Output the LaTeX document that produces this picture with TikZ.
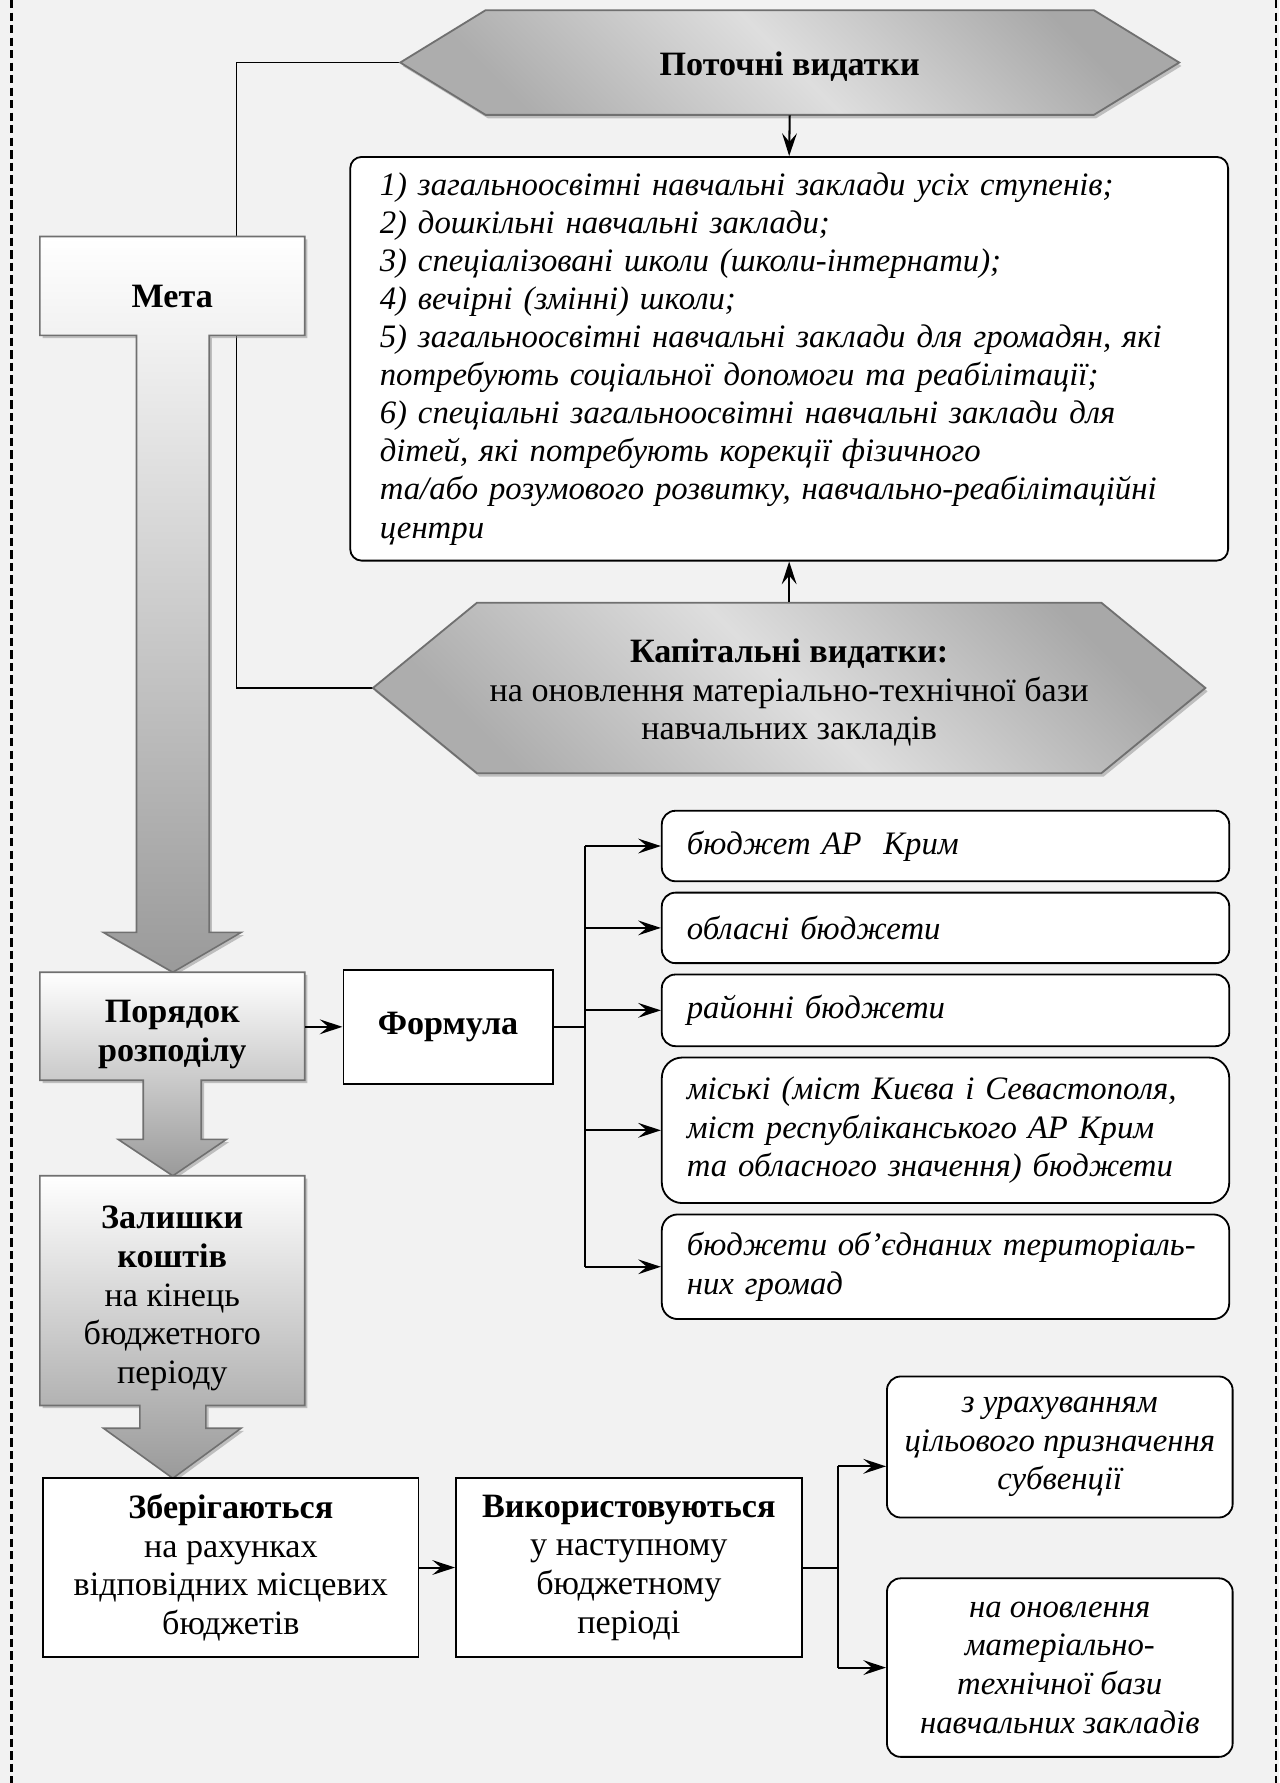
\documentclass[tikz,border=0pt]{standalone}
\usepackage{fontspec}
\setmainfont{Liberation Serif}
\usepackage{tikz}
\usetikzlibrary{positioning,arrows.meta,calc,shadows}
\definecolor{pagegray}{HTML}{F2F2F2}
\definecolor{shapeborder}{HTML}{707070}
\definecolor{hexdark}{HTML}{A8A8A8}
\definecolor{hexlight}{HTML}{DEDEDE}
\definecolor{hexlow}{HTML}{ADADAD}
\definecolor{calloutbot}{HTML}{9A9A9A}

\tikzset{
  bodytext/.style={font=\fontsize{15}{17}\selectfont},
  headtext/.style={font=\fontsize{15}{17}\selectfont\bfseries},
  listtext/.style={font=\fontsize{14.4}{16.75}\selectfont\itshape},
  itemtext/.style={font=\fontsize{14.4}{17}\selectfont\itshape},
  hexshape/.style={draw=shapeborder,line width=0.8pt,
    top color=hexdark,bottom color=hexlow,middle color=hexlight,shading angle=-45,
    drop shadow={shadow xshift=1pt,shadow yshift=-1.5pt,opacity=0.5,fill=black!45}},
  calloutshape/.style={draw=shapeborder,line width=0.7pt,
    top color=white,bottom color=calloutbot,
    drop shadow={shadow xshift=1.2pt,shadow yshift=-1.2pt,opacity=0.5,fill=black!45}},
  whitebox/.style={draw=black,line width=0.8pt,fill=white,inner sep=0pt,align=center},
  roundbox/.style={whitebox,rounded corners=6pt},
  budgetbox/.style={roundbox,itemtext,align=left,text width=227.5pt,inner xsep=11pt},
  conn/.style={line width=0.9pt},
  thinline/.style={line width=0.6pt},
  arr/.style={conn,-{Stealth[length=10pt,width=6.5pt,inset=3.8pt]}},
  dashline/.style={line width=1.1pt,dash pattern=on 3.7pt off 1.8pt}
}

\begin{document}
\begin{tikzpicture}[x=0.5pt,y=-0.5pt]

\useasboundingbox (0,0) rectangle (1125,1568);
\fill[pagegray] (0,0) rectangle (1125,1568);
\draw[dashline] (10,0) -- (10,1568);
\draw[dashline] (1122,0) -- (1122,1568);

% tips of the two expense arrows
\coordinate (potW) at (352,55);
\coordinate (kapW) at (328,605);
\coordinate (mline) at (208,0);
\draw[thinline] (potW) -| (mline |- kapW) -- (kapW);

% expense shapes
\path[hexshape] (352,55) -- (427,9) -- (962,9) -- (1037,55) -- (962,101) -- (427,101) -- cycle;
\path[hexshape] (328,605) -- (419.5,530) -- (968.5,530) -- (1060,605) -- (968.5,680) -- (419.5,680) -- cycle;

\node[headtext,minimum width=267.5pt,minimum height=42pt] (pot) at (694.5,59) {Поточні видатки};
\node[bodytext,align=center,minimum width=274.5pt,minimum height=79pt] (kap) at (694,609)
  {\textbf{Капітальні видатки:}\\на оновлення матеріально-технічної бази\\навчальних закладів};

\node[whitebox,rounded corners=5pt,listtext,align=left,text width=360pt,
      minimum height=177.5pt,inner xsep=13pt] (list) at (694,315.5)
{1) загальноосвітні навчальні заклади усіх ступенів;\\
2) дошкільні навчальні заклади;\\
3) спеціалізовані школи (школи-інтернати);\\
4) вечірні (змінні) школи;\\
5) загальноосвітні навчальні заклади для громадян, які\\
потребують соціальної допомоги та реабілітації;\\
6) спеціальні загальноосвітні навчальні заклади для\\
дітей, які потребують корекції фізичного\\
та/або розумового розвитку, навчально-реабілітаційні\\
центри};

\draw[arr] (pot.south) -- (list.north);
\draw[arr] (kap.north) -- (list.south);

% left column: box + down arrow
\path[calloutshape] (35,208) -- (268,208) -- (268,295) -- (184,295) -- (184,820) -- (212,820)
  -- (152,855) -- (91,820) -- (120,820) -- (120,295) -- (35,295) -- cycle;
\path[calloutshape] (35,855) -- (268,855) -- (268,950) -- (177,950) -- (177,1002) -- (199,1002)
  -- (152,1034) -- (104,1002) -- (126,1002) -- (126,950) -- (35,950) -- cycle;
\path[calloutshape] (35,1034) -- (268,1034) -- (268,1236) -- (181,1236) -- (181,1256) -- (212,1256)
  -- (152,1300) -- (91,1256) -- (123,1256) -- (123,1236) -- (35,1236) -- cycle;

\node[headtext,minimum width=116.5pt,minimum height=43.5pt] (meta) at (151.5,261) {Мета};
\node[headtext,align=center,minimum width=116.5pt,minimum height=47.5pt] (order) at (151.5,910)
  {Порядок\\розподілу};
\node[bodytext,align=center,minimum width=116.5pt,minimum height=101pt] (rest) at (151.5,1142)
  {\textbf{Залишки}\\\textbf{коштів}\\на кінець\\бюджетного\\періоду};

% formula and budgets
\node[whitebox,headtext,minimum width=92pt,minimum height=50pt] (formula) at (394,903) {Формула};
\draw[arr] (order.east |- formula.west) -- (formula.west);

\node[budgetbox,minimum height=31pt] (b1) at (831.5,744) {бюджет АР\ \ Крим};
\node[budgetbox,minimum height=31pt] (b2) at (831.5,816) {обласні бюджети};
\node[budgetbox,minimum height=31.5pt] (b3) at (831.5,888.5) {районні бюджети};
\node[budgetbox,rounded corners=9pt,minimum height=64pt] (b4) at (831.5,994)
  {міські (міст Києва і Севастополя,\\міст республіканського АР Крим\\та обласного значення) бюджети};
\node[budgetbox,rounded corners=7pt,minimum height=46pt] (b5) at (831.5,1114)
  {\mbox{бюджети об’єднаних територіаль-}\\них громад};

\coordinate (fbus) at ($(formula.east)+(28,0)$);
\draw[conn] (formula.east) -- (fbus);
\draw[conn] (fbus |- b1.west) -- (fbus |- b5.west);
\foreach \b in {b1,b2,b3,b4,b5}
  \draw[arr] (fbus |- \b.west) -- (\b.west);

% bottom row
\node[whitebox,bodytext,minimum width=165pt,minimum height=78.5pt] (keep) at (203,1378.5)
  {\textbf{Зберігаються}\\на рахунках\\відповідних місцевих\\бюджетів};
\node[whitebox,bodytext,minimum width=152pt,minimum height=78.5pt] (use) at (553,1378.5)
  {\textbf{Використовуються}\\у наступному\\бюджетному\\періоді};
\draw[arr] (keep.east) -- (use.west);

\node[roundbox,itemtext,minimum width=152pt,minimum height=62pt] (u1) at (932,1272.5)
  {з урахуванням\\цільового призначення\\субвенції};
\node[roundbox,itemtext,minimum width=152pt,minimum height=78.5pt] (u2) at (932,1466.5)
  {на оновлення\\матеріально-\\технічної бази\\навчальних закладів};

\coordinate (ubus) at ($(use.east)+(31,0)$);
\coordinate (u1in) at ($(u1.west)+(0,17)$);
\draw[conn] (use.east) -- (ubus);
\draw[conn] (ubus |- u1in) -- (ubus |- u2.west);
\draw[arr] (ubus |- u1in) -- (u1in);
\draw[arr] (ubus |- u2.west) -- (u2.west);

\end{tikzpicture}
\end{document}
